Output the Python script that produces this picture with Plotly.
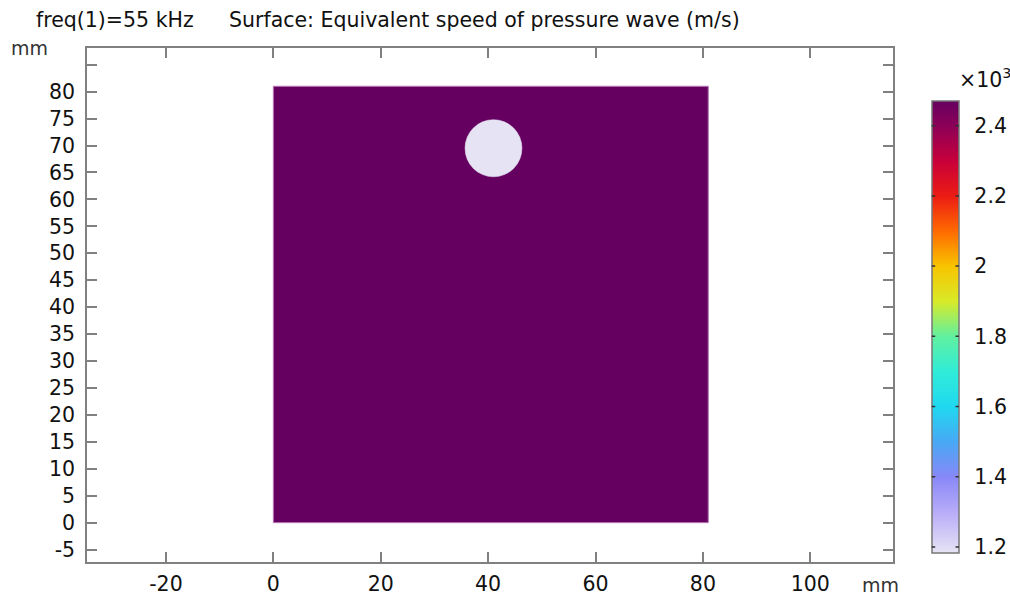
import plotly.graph_objects as go
from plotly.colors import sample_colorscale

# ---------------- data ----------------
domain_x = [0, 81]          # mm, solid block extent in x
domain_y = [0, 81]          # mm, solid block extent in y
hole_center = [41, 69.5]    # mm
hole_radius = 5.3           # mm
domain_speed = 2471         # m/s
hole_speed = 1184           # m/s

x_tickvals = [-20, 0, 20, 40, 60, 80, 100]
x_ticktext = ["-20", "0", "20", "40", "60", "80", "100"]
y_tickvals = [-5, 0, 5, 10, 15, 20, 25, 30, 35, 40, 45, 50, 55, 60, 65, 70, 75, 80, 85]
y_ticktext = ["-5", "0", "5", "10", "15", "20", "25", "30", "35", "40", "45", "50",
              "55", "60", "65", "70", "75", "80", " "]
cb_tickvals = [1200, 1400, 1600, 1800, 2000, 2200, 2400]
cb_ticktext = ["1.2", "1.4", "1.6", "1.8", "2", "2.2", "2.4"]

# ---------------- style ----------------
FONT = "DejaVu Sans"
FS = 20.5
vmin, vmax = hole_speed, domain_speed

def t(v):
    return (v - vmin) / (vmax - vmin)

colorscale = [
    [0.0, "#e6e4f4"],
    [t(1300), "#b8acf8"],
    [t(1400), "#8888f8"],
    [t(1500), "#48a8f4"],
    [t(1600), "#20d8f0"],
    [t(1700), "#30ecd8"],
    [t(1800), "#60f0a0"],
    [t(1900), "#d8ea28"],
    [t(2000), "#f8c400"],
    [t(2100), "#ff6a00"],
    [t(2200), "#ec1c14"],
    [t(2300), "#c8003a"],
    [t(2400), "#8c0058"],
    [1.0, "#660060"],
]

W, H = 1010, 595
ml, mr, mt, mb = 87, 117, 48, 33
pw, ph = W - ml - mr, H - mt - mb

fig = go.Figure()

# colorbar carrier trace
cb_top_px, cb_bot_px = 100.7, 552.7
cb_len = cb_bot_px - cb_top_px
cb_center = (cb_top_px + cb_bot_px) / 2
cb_left_px, cb_thick = 931.7, 27.3

fig.add_trace(go.Scatter(
    x=[hole_center[0], hole_center[0]], y=[hole_center[1], hole_center[1]],
    mode="markers", hoverinfo="skip", showlegend=False,
    marker=dict(size=1, opacity=0, color=[vmin, vmax], cmin=vmin, cmax=vmax,
                colorscale=colorscale, showscale=True,
                colorbar=dict(
                    thickness=cb_thick, thicknessmode="pixels",
                    len=cb_len, lenmode="pixels",
                    x=(cb_left_px - ml) / pw, xanchor="left", xpad=0,
                    y=(H - mb - cb_center) / ph, yanchor="middle", ypad=0,
                    outlinecolor="#777777", outlinewidth=1.5,
                    ticks="outside", ticklen=11, tickwidth=1, tickcolor="rgba(0,0,0,0)",
                    tickvals=cb_tickvals, ticktext=cb_ticktext,
                    tickfont=dict(family=FONT, size=FS, color="#111111"),
                ))))

dom_color = sample_colorscale(colorscale, [t(domain_speed)], colortype="rgb")[0]
hole_color = sample_colorscale(colorscale, [t(hole_speed)], colortype="rgb")[0]

shapes = [
    dict(type="rect", xref="x", yref="y", layer="below",
         x0=domain_x[0], x1=domain_x[1], y0=domain_y[0], y1=domain_y[1],
         fillcolor=dom_color, line=dict(color="#b878b8", width=1)),
    dict(type="circle", xref="x", yref="y", layer="below",
         x0=hole_center[0] - hole_radius, x1=hole_center[0] + hole_radius,
         y0=hole_center[1] - hole_radius, y1=hole_center[1] + hole_radius,
         fillcolor=hole_color, line=dict(color=hole_color, width=0.5)),
]

annotations = [
    dict(text="freq(1)=55 kHz", xref="paper", yref="paper",
         x=(34 - ml) / pw, y=(H - mb - 20) / ph, xanchor="left", yanchor="middle",
         showarrow=False, font=dict(family=FONT, size=FS, color="#111111")),
    dict(text="Surface: Equivalent speed of pressure wave (m/s)", xref="paper", yref="paper",
         x=(227 - ml) / pw, y=(H - mb - 20) / ph, xanchor="left", yanchor="middle",
         showarrow=False, font=dict(family=FONT, size=FS, color="#111111")),
    dict(text="mm", xref="paper", yref="paper",
         x=(9 - ml) / pw, y=(H - mb - 48) / ph, xanchor="left", yanchor="middle",
         showarrow=False, font=dict(family=FONT, size=FS - 1.5, color="#333333")),
    dict(text="mm", xref="paper", yref="paper",
         x=(860 - ml) / pw, y=(H - mb - 585) / ph, xanchor="left", yanchor="middle",
         showarrow=False, font=dict(family=FONT, size=FS - 1.5, color="#333333")),
    dict(text="×10<sup>3</sup>", xref="paper", yref="paper",
         x=(957 - ml) / pw, y=(H - mb - 78) / ph, xanchor="left", yanchor="middle",
         showarrow=False, font=dict(family=FONT, size=FS, color="#111111")),
]

# colorbar tick dashes on both inner edges of the bar (drawn as short arrow lines)
xl = (cb_left_px - ml) / pw
xr = (cb_left_px + cb_thick - ml) / pw
for v in cb_tickvals:
    ypx = cb_top_px + (vmax - v) / (vmax - vmin) * cb_len
    yp = (H - mb - ypx) / ph
    for xp, dx in ((xl, 5), (xr, -5)):
        annotations.append(dict(text="", xref="paper", yref="paper", x=xp, y=yp,
                                ax=dx, ay=0, showarrow=True, arrowhead=0,
                                arrowwidth=1.5, arrowcolor="#333333",
                                standoff=0, startstandoff=0))

axis_common = dict(
    showgrid=False, zeroline=False, showline=True, linecolor="#808080", linewidth=1.5,
    mirror="ticks", ticks="inside", ticklen=10, tickwidth=1.5, tickcolor="#808080",
    tickfont=dict(family=FONT, size=FS, color="#111111"),
)

fig.update_layout(
    width=W, height=H,
    margin=dict(l=ml, r=mr, t=mt, b=mb, autoexpand=False),
    paper_bgcolor="white", plot_bgcolor="white",
    shapes=shapes,
    annotations=annotations,
    xaxis=dict(range=[-34.7, 115.4], tickvals=x_tickvals, ticktext=x_ticktext,
               ticklabelstandoff=3, **axis_common),
    yaxis=dict(range=[-7.3, 88.1], tickvals=y_tickvals, ticktext=y_ticktext,
               ticklabelstandoff=6, **axis_common),
)

fig.write_html("out.html")
